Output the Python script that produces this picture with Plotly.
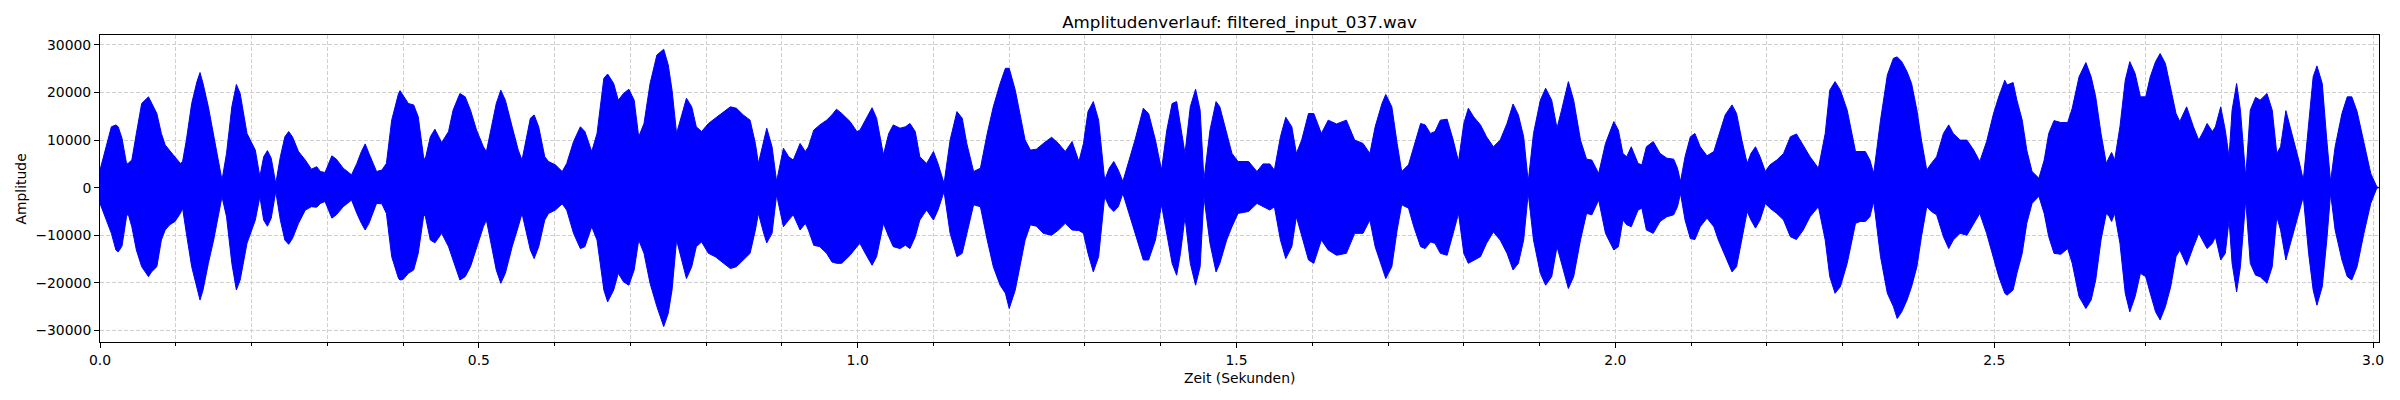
import plotly.graph_objects as go

# Envelope of the waveform (time in s, amplitude)
time_s = [
    0.000, 0.008, 0.015, 0.021, 0.024, 0.029, 0.035, 0.037, 0.042, 0.048, 0.055, 0.064, 0.068, 0.075,
    0.081, 0.086, 0.092, 0.099, 0.106, 0.109, 0.114, 0.121, 0.128, 0.132, 0.136, 0.143, 0.150, 0.161,
    0.167, 0.174, 0.180, 0.185, 0.194, 0.200, 0.205, 0.211, 0.216, 0.221, 0.226, 0.232, 0.238, 0.244,
    0.249, 0.254, 0.262, 0.271, 0.279, 0.286, 0.291, 0.297, 0.306, 0.312, 0.321, 0.332, 0.339, 0.345,
    0.350, 0.355, 0.365, 0.372, 0.378, 0.385, 0.394, 0.396,
    0.400, 0.407, 0.414, 0.420, 0.427, 0.429, 0.436, 0.442, 0.451, 0.460, 0.466, 0.475, 0.482, 0.489,
    0.497, 0.506, 0.510, 0.517, 0.523, 0.529, 0.535, 0.544, 0.552, 0.557, 0.561, 0.568, 0.573, 0.579,
    0.587, 0.592, 0.601, 0.610, 0.616, 0.625, 0.634, 0.640, 0.649, 0.656, 0.665, 0.670, 0.678, 0.684,
    0.691, 0.698, 0.705, 0.711, 0.718, 0.726, 0.735, 0.744, 0.750, 0.755, 0.761, 0.768, 0.774, 0.781,
    0.787, 0.794, 0.803, 0.812, 0.821, 0.832, 0.840, 0.849, 0.858, 0.865, 0.869, 0.876, 0.880, 0.887,
    0.893, 0.902, 0.909, 0.915, 0.924, 0.931, 0.935, 0.942, 0.950,
    0.959, 0.966, 0.972, 0.979, 0.990, 0.999, 1.003, 1.010, 1.019, 1.025, 1.034, 1.041, 1.047, 1.056,
    1.063, 1.069, 1.076, 1.082, 1.091, 1.100, 1.106, 1.114, 1.122, 1.131, 1.138, 1.144, 1.153, 1.162,
    1.171, 1.179, 1.188, 1.195, 1.200, 1.208, 1.214, 1.221, 1.228, 1.236, 1.245, 1.256, 1.265, 1.274,
    1.283, 1.292, 1.298, 1.304, 1.311, 1.318, 1.326, 1.332, 1.338, 1.344, 1.350, 1.357, 1.366, 1.377,
    1.384, 1.393, 1.401, 1.408, 1.415, 1.421, 1.426, 1.432, 1.439, 1.446, 1.452, 1.457, 1.465, 1.473,
    1.478, 1.487, 1.494, 1.502, 1.516, 1.527, 1.535, 1.544, 1.550, 1.558, 1.565, 1.573, 1.579, 1.586,
    1.595, 1.602, 1.612, 1.621, 1.632, 1.645, 1.656, 1.667, 1.676, 1.683, 1.692, 1.697, 1.705, 1.712,
    1.718, 1.727, 1.734, 1.743, 1.749, 1.756, 1.762, 1.769, 1.778, 1.786, 1.793, 1.800, 1.806, 1.813,
    1.822, 1.830, 1.839, 1.848, 1.857, 1.865, 1.872, 1.879, 1.885, 1.892, 1.901, 1.908, 1.916, 1.923,
    1.929, 1.938, 1.945, 1.954, 1.962, 1.969, 1.978, 1.987,
    1.998, 2.004, 2.010, 2.015, 2.021, 2.030, 2.035, 2.041, 2.050, 2.059, 2.068, 2.077, 2.082, 2.086,
    2.092, 2.099, 2.105, 2.112, 2.121, 2.130, 2.136, 2.145, 2.154, 2.160, 2.167, 2.174, 2.179, 2.185,
    2.191, 2.198, 2.204, 2.213, 2.222, 2.231, 2.239, 2.248, 2.257, 2.268, 2.277, 2.283, 2.290, 2.297,
    2.306, 2.317, 2.323, 2.330, 2.336, 2.341, 2.350, 2.359, 2.367, 2.372, 2.378, 2.385, 2.391, 2.398,
    2.404, 2.411, 2.417, 2.424, 2.433, 2.440, 2.446, 2.455, 2.464, 2.473, 2.481, 2.490, 2.499, 2.506,
    2.514, 2.517, 2.525, 2.530, 2.537, 2.543, 2.550, 2.559, 2.566, 2.572, 2.579, 2.588, 2.597, 2.603,
    2.612, 2.621, 2.628, 2.634, 2.641, 2.648, 2.652, 2.655, 2.659, 2.666, 2.673, 2.679, 2.686, 2.693,
    2.700, 2.706, 2.713, 2.719, 2.726, 2.733, 2.740, 2.745, 2.754, 2.763, 2.770, 2.777, 2.781, 2.788,
    2.792, 2.799, 2.805, 2.810, 2.814, 2.820, 2.825, 2.832, 2.838, 2.845, 2.851, 2.860, 2.867, 2.873,
    2.878, 2.885, 2.893, 2.902, 2.908, 2.915, 2.921, 2.926, 2.933, 2.939, 2.944, 2.950, 2.959, 2.966,
    2.972, 2.979, 2.988, 2.997, 3.005, 3.008,
]

upper_env = [
    3700, 8600, 12800, 13200, 12800, 10400, 5100, 5100, 5800, 11400, 17700, 19100, 17700, 15600,
    11400, 9000, 7800, 6500, 5100, 5500, 10000, 17700, 22300, 24200, 21900, 17000, 10700, 1600,
    7200, 17000, 21700, 19800, 11400, 9300, 7900, 2300, 6500, 7800, 6200, 900, 6500, 10700,
    11800, 10700, 7600, 5800, 3900, 4400, 3400, 3200, 6700, 6000, 4100, 2700, 5100, 7600,
    9200, 7200, 3400, 3700, 5100, 14200, 19800, 20400,
    19500, 17700, 17400, 14900, 6500, 5800, 10700, 12300, 9500, 11800, 16300, 19800, 19100, 16300,
    12100, 8600, 7600, 12800, 17700, 20500, 18400, 12800, 7900, 5800, 9300, 14600, 15300, 12800,
    6500, 5500, 4800, 3400, 5100, 9700, 12800, 11800, 7600, 11400, 23000, 23900, 21900, 18400,
    19800, 20700, 18400, 10700, 13500, 21900, 27900, 29100, 25800, 20500, 11400, 15600, 18800, 17000,
    12800, 11800, 13500, 14600, 15600, 17000, 16700, 15300, 14200, 9300, 5100, 10000, 12500, 8600,
    1300, 8300, 6500, 5800, 9300, 7600, 8600, 12100, 13200,
    14200, 15300, 16500, 15600, 13900, 11800, 12100, 14200, 16800, 14600, 6900, 11400, 13200, 12500,
    12800, 13500, 11800, 6500, 5100, 7600, 5100, 900, 10000, 16000, 14600, 9300, 3400, 4100,
    11400, 17000, 21900, 25100, 25100, 20500, 15600, 10000, 7900, 8100, 9300, 10600, 9300, 7600,
    9700, 5500, 9300, 16000, 18100, 14200, 1600, 4100, 5500, 3700, 1300, 5100, 10000, 16700,
    15600, 10000, 3700, 12100, 17700, 18100, 12800, 7200, 17000, 20700, 16300, 1600, 12100, 18100,
    17000, 11400, 7200, 5500, 5500, 3400, 5000, 5000, 3700, 10700, 14800, 12800, 7200, 10000,
    15600, 15600, 11400, 14200, 13400, 14200, 10000, 9300, 7200, 12800, 17700, 19600, 17000, 9300,
    3400, 4800, 8600, 13500, 13200, 11400, 11800, 14200, 14400, 10000, 5500, 13500, 16700, 14900,
    13200, 10700, 8600, 10000, 13500, 17600, 15300, 10700, 1300, 11400, 18400, 20900, 18400, 12500,
    16300, 22300, 18400, 10000, 6000, 5800, 3000, 9300,
    13900, 12100, 7200, 6500, 8600, 5100, 4800, 8600, 9700, 7200, 6200, 6000, 4100, 1300,
    6500, 10700, 11400, 8600, 6700, 7600, 10700, 15300, 17400, 15600, 10000, 5100, 7200, 8600,
    6500, 3400, 4800, 5800, 7200, 10700, 11300, 9000, 6500, 4100, 11400, 20500, 22300, 20500,
    16300, 7600, 7600, 7600, 5800, 3000, 14200, 23700, 27200, 27500, 26500, 24400, 21900, 16300,
    10000, 3700, 5100, 6500, 11400, 13200, 11400, 10000, 10000, 7900, 5500, 9700, 15500, 19100,
    22600, 21600, 22100, 18400, 14200, 7900, 3400, 2000, 5800, 11400, 14100, 13700, 13700, 16700,
    23300, 26300, 23300, 19100, 11400, 5100, 6500, 7400, 5800, 12800, 22600, 26500, 24000, 19100,
    19100, 23300, 26500, 28200, 26100, 21200, 15600, 13900, 17000, 12800, 10000, 12100, 13500, 11800,
    12800, 17000, 12100, 6500, 16300, 21900, 16300, 2300, 16300, 19000, 18400, 19800, 16300, 7200,
    8600, 16200, 11400, 5800, 1600, 12800, 23300, 25600, 21900, 10000, 1300, 8600, 15600, 19100,
    19100, 16000, 9300, 3000, 200, 0,
]

lower_env = [
    -3300, -6800, -9600, -13100, -13500, -12300, -6100, -5400, -8200, -13100, -16600, -18700, -17700, -16600,
    -11000, -8900, -7800, -7100, -5400, -4300, -9600, -16600, -21200, -23600, -21500, -15900, -11000, -1900,
    -6100, -15900, -21500, -19400, -11700, -8900, -6800, -1900, -6800, -8100, -6400, -800, -6800, -11000,
    -11900, -10700, -7500, -4700, -4000, -4100, -3300, -2900, -6400, -5700, -4000, -2600, -5400, -7500,
    -8900, -7500, -3300, -3400, -5400, -14500, -19100, -19400,
    -19300, -18000, -17300, -13800, -6100, -5700, -11000, -11600, -9600, -12400, -15200, -19400, -18700, -16600,
    -12400, -8200, -6800, -12400, -17300, -20100, -18000, -12400, -8200, -5400, -8200, -13100, -14900, -12400,
    -6800, -5400, -4700, -3400, -4700, -9600, -12800, -12400, -8200, -11000, -21500, -24000, -21500, -18000,
    -19800, -20500, -17300, -11000, -13800, -20100, -25000, -29200, -26400, -21500, -11000, -15200, -19100, -16600,
    -12400, -11400, -13800, -14500, -15600, -17000, -16600, -15200, -13800, -8900, -5400, -9600, -11600, -9600,
    -1500, -8200, -6800, -5700, -8900, -7500, -8900, -12100, -12400,
    -13800, -15600, -15900, -15900, -14200, -12400, -11700, -13800, -16300, -14500, -7500, -10300, -12400, -12800,
    -12100, -12800, -10300, -6800, -4700, -6800, -4700, -800, -9600, -14500, -13800, -9600, -3600, -4000,
    -11000, -16600, -20500, -22200, -25400, -21500, -16600, -11000, -7800, -8100, -9600, -10000, -8900, -7500,
    -8900, -9000, -9600, -13800, -17700, -14500, -1900, -4000, -5000, -4000, -1200, -4700, -9600, -15200,
    -15200, -11000, -3600, -9600, -15900, -18400, -13800, -6100, -15900, -20500, -16600, -1900, -11700, -17700,
    -15900, -11000, -8200, -5400, -5000, -3300, -4000, -4700, -4000, -11000, -14900, -12400, -6100, -10300,
    -15200, -15900, -11000, -13100, -14200, -13800, -9600, -9600, -6800, -12400, -16600, -19100, -16600, -8900,
    -3600, -4300, -8200, -12400, -12800, -11400, -11700, -13800, -14200, -9600, -5400, -13800, -15900, -15200,
    -14500, -11700, -9300, -11000, -13800, -17300, -15900, -11000, -1200, -11000, -18000, -20500, -18700, -12400,
    -15900, -21200, -18700, -11000, -5400, -5700, -2600, -9600,
    -13100, -12400, -6800, -7800, -8200, -4700, -4300, -8900, -9600, -7100, -6100, -5700, -4000, -1200,
    -6800, -10700, -10900, -8200, -6400, -8200, -11000, -14500, -17700, -16600, -11000, -5000, -6800, -8500,
    -6800, -3300, -4300, -5400, -6800, -10300, -10900, -8900, -6100, -4000, -11000, -18700, -22200, -20800,
    -15900, -7500, -7100, -7100, -6100, -2900, -14500, -22200, -25000, -27500, -26100, -23600, -20800, -16600,
    -10300, -4000, -5000, -5700, -10300, -12800, -11000, -9600, -10000, -7500, -5400, -9600, -14500, -18700,
    -22200, -22600, -21500, -18000, -13800, -7500, -3300, -1800, -5400, -10300, -13800, -14000, -12800, -15900,
    -22900, -25400, -23600, -19400, -11000, -5400, -6100, -7100, -5400, -11700, -22200, -26100, -22900, -18000,
    -18700, -22200, -26100, -27800, -25000, -20800, -14500, -13100, -16300, -12400, -9600, -11700, -12800, -11700,
    -10300, -15200, -13800, -6800, -15900, -21900, -16600, -2600, -15900, -18400, -18700, -20100, -16600, -6100,
    -8900, -15200, -11000, -5400, -1900, -13800, -21500, -24700, -20800, -11000, -1200, -8900, -15200, -18700,
    -19400, -16600, -9600, -3300, -100, 0,
]

title_text = "Amplitudenverlauf: filtered_input_037.wav"
x_label = "Zeit (Sekunden)"
y_label = "Amplitude"
x_major_ticks = [0.0, 0.5, 1.0, 1.5, 2.0, 2.5, 3.0]
y_major_ticks = [-30000, -20000, -10000, 0, 10000, 20000, 30000]

poly_x = time_s + time_s[::-1]
poly_y = upper_env + lower_env[::-1]

fig = go.Figure()
fig.add_trace(go.Scatter(
    x=poly_x, y=poly_y, mode="lines", fill="toself",
    fillcolor="#0000ff", line=dict(color="#0000ff", width=1),
    hoverinfo="skip", showlegend=False,
))

font_family = "DejaVu Sans"
grid_col = "#cfcfcf"

fig.update_layout(
    template="none",
    width=2400, height=400,
    margin=dict(l=100, r=21, t=35, b=58, autoexpand=False),
    paper_bgcolor="white", plot_bgcolor="white",
    font=dict(family=font_family, size=13.9, color="black"),
    title=dict(text=title_text, x=(100 + 2379) / 2 / 2400, xanchor="center",
               y=1 - 22 / 400, yanchor="middle", yref="container",
               font=dict(family=font_family, size=16.7, color="black")),
    showlegend=False,
)

fig.update_xaxes(
    automargin=False,
    range=[0, 3.0079], tickmode="array", tickvals=x_major_ticks,
    ticktext=[f"{v:.1f}" for v in x_major_ticks],
    ticks="outside", ticklen=5, tickwidth=1, tickcolor="black",
    showline=True, linecolor="black", linewidth=1, mirror=True,
    showgrid=True, gridcolor=grid_col, gridwidth=1, griddash="4px,2px",
    minor=dict(dtick=0.1, tick0=0, ticks="outside", ticklen=3, tickcolor="black",
               showgrid=True, gridcolor=grid_col, gridwidth=1, griddash="4px,2px"),
    zeroline=False, tickfont=dict(size=13.9),
)
fig.update_yaxes(
    automargin=False,
    range=[-32440, 32100], tickmode="array", tickvals=y_major_ticks,
    ticktext=[(str(v) if v >= 0 else "\u2212" + str(-v)) for v in y_major_ticks],
    ticks="outside", ticklen=5, tickwidth=1, tickcolor="black",
    showline=True, linecolor="black", linewidth=1, mirror=True,
    showgrid=True, gridcolor=grid_col, gridwidth=1, griddash="4px,2px",
    zeroline=False, tickfont=dict(size=13.9),
)

fig.add_annotation(text=x_label, xref="paper", yref="paper", x=0.5, y=-(378 - 342) / 307,
                   xanchor="center", yanchor="middle", showarrow=False,
                   font=dict(family=font_family, size=13.9, color="black"))
fig.add_annotation(text=y_label, xref="paper", yref="paper", x=(20 - 100) / 2279, y=0.5,
                   xanchor="center", yanchor="middle", textangle=-90, showarrow=False,
                   font=dict(family=font_family, size=13.9, color="black"))

fig.write_html("out.html",
               config={"displayModeBar": False},
               post_script="document.body.style.margin='0';document.body.style.padding='0';")
